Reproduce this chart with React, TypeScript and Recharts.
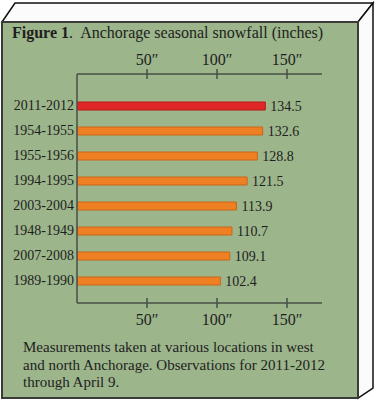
import React from 'react';
import { BarChart, Bar, XAxis, YAxis, Cell, LabelList } from 'recharts';

// seasons, ranked by total snowfall
const seasons = [
  '2011-2012',
  '1954-1955',
  '1955-1956',
  '1994-1995',
  '2003-2004',
  '1948-1949',
  '2007-2008',
  '1989-1990',
];
const snowfall = [134.5, 132.6, 128.8, 121.5, 113.9, 110.7, 109.1, 102.4];
const currentSeason = '2011-2012';
const inchTicks = [50, 100, 150];

const noteLines = [
  'Measurements taken at various locations in west',
  'and north Anchorage. Observations for 2011-2012',
  'through April 9.',
];

const chartData = seasons.map((season, i) => ({ season, inches: snowfall[i] }));

const FONT = '"Liberation Serif", "DejaVu Serif", serif';
const INK = '#1e1e1e';
const AXIS = '#4a4f48';

const InchTick = ({ x, y, payload, side }: any) => {
  const labelY = side === 'top' ? y - 9 : y + 22;
  return (
    <g>
      <line x1={x} x2={x} y1={y - 5} y2={y + 5} stroke={AXIS} strokeWidth={1.5} />
      <text x={x} y={labelY} textAnchor="middle" fill={INK} fontSize={16} fontFamily={FONT}>
        {`${payload.value}″`}
      </text>
    </g>
  );
};

const App: React.FC = () => {
  return (
    <div style={{ position: 'absolute', left: 0, top: 0, width: 376, height: 400 }}>
      <svg width={376} height={400} style={{ position: 'absolute', left: 0, top: 0 }}>
        {/* faux 3d box */}
        <polygon points="2,22 15,3 373,3 358,22" fill="#fbfbfb" stroke="#111" strokeWidth={1.5} />
        <polygon points="358,22 373,3 373,388 358,398" fill="#fbfbfb" stroke="#111" strokeWidth={1.5} />
        <rect x={2} y={22} width={356} height={376} fill="#9cb58b" stroke="#3a3a3a" strokeWidth={2} />
        <text x={12} y={38} fill={INK} fontSize={16} fontFamily={FONT} xmlSpace="preserve">
          <tspan fontWeight="bold">Figure 1</tspan>
          <tspan>.  Anchorage seasonal snowfall (inches)</tspan>
        </text>
        {noteLines.map((line, i) => (
          <text key={i} x={23} y={352 + i * 17.5} fill={INK} fontSize={15} fontFamily={FONT}>
            {line}
          </text>
        ))}
      </svg>
      <div style={{ position: 'absolute', left: 0, top: 0 }}>
        <BarChart
          width={376}
          height={400}
          data={chartData}
          layout="vertical"
          margin={{ top: 44, right: 54, bottom: 67, left: 0 }}
        >
          <XAxis
            xAxisId="top"
            orientation="top"
            type="number"
            domain={[0, 175]}
            allowDataOverflow
            ticks={inchTicks}
            height={30}
            stroke={AXIS}
            strokeWidth={1.5}
            tickLine={false}
            tickSize={0}
            tickMargin={0}
            tick={(props: any) => <InchTick {...props} side="top" />}
          />
          <XAxis
            xAxisId="bottom"
            orientation="bottom"
            type="number"
            domain={[0, 175]}
            allowDataOverflow
            ticks={inchTicks}
            height={30}
            stroke={AXIS}
            strokeWidth={1.5}
            tickLine={false}
            tickSize={0}
            tickMargin={0}
            tick={(props: any) => <InchTick {...props} side="bottom" />}
          />
          <YAxis
            type="category"
            dataKey="season"
            width={77}
            padding={{ top: 19, bottom: 10 }}
            stroke={AXIS}
            strokeWidth={1.5}
            tickLine={false}
            tickSize={0}
            tickMargin={3}
            tick={{ fill: INK, fontSize: 14, fontFamily: FONT }}
          />
          <Bar dataKey="inches" xAxisId="bottom" barSize={8} isAnimationActive={false}>
            {chartData.map((d) => (
              <Cell
                key={d.season}
                fill={d.season === currentSeason ? '#e02626' : '#ee7f22'}
                stroke={d.season === currentSeason ? '#b51b17' : '#c9661a'}
                strokeWidth={1}
              />
            ))}
            <LabelList
              dataKey="inches"
              position="right"
              offset={5}
              fill={INK}
              fontSize={14}
              fontFamily={FONT}
              formatter={(v: any) => Number(v).toFixed(1)}
            />
          </Bar>
        </BarChart>
      </div>
    </div>
  );
};

export default App;
